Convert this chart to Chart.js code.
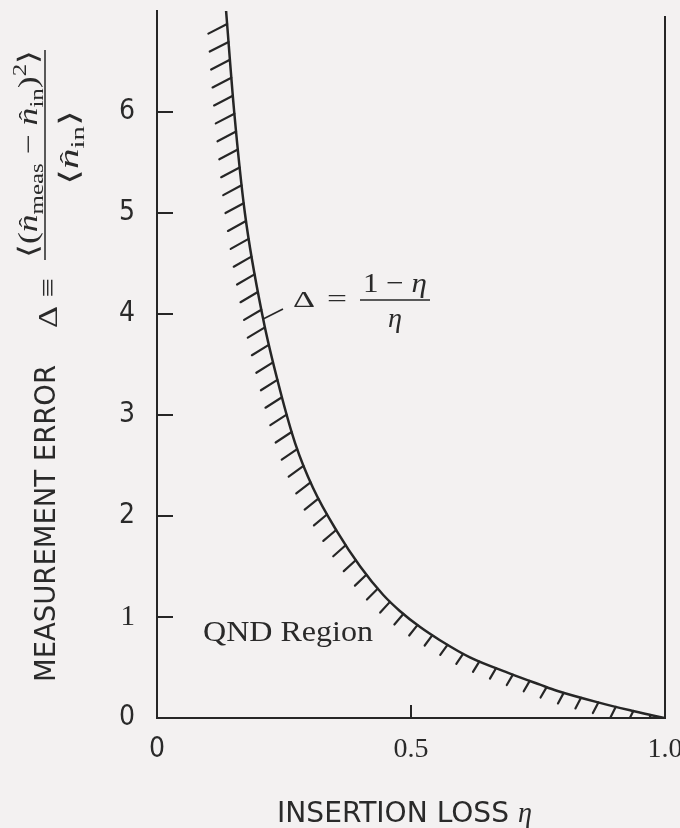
<!DOCTYPE html>
<html>
<head>
<meta charset="utf-8">
<script src="https://cdn.jsdelivr.net/npm/chart.js@4.4.0/dist/chart.umd.min.js"></script>
<style>
  html, body { margin: 0; padding: 0; background: #f3f1f1; }
  canvas { display: block; }
</style>
</head>
<body>
<canvas id="myChart" width="680" height="828"></canvas>
<script>
// values
var eta   = [0.136, 0.152, 0.173, 0.209, 0.242, 0.272, 0.307, 0.354, 0.400, 0.445, 0.478, 0.518, 0.557, 0.616, 0.695, 0.754, 0.787, 0.872, 0.937, 0.976, 1.000];
var delta = [7.00,  6.00,  5.00,  3.95,  3.25,  2.72,  2.28,  1.85,  1.50,  1.22,  1.06,  0.90,  0.77,  0.60,  0.44,  0.33,  0.27,  0.15,  0.07,  0.025, 0.00];
var xTicks = [0, 0.5, 1.0];
var xTickLabels = ["0", "0.5", "1.0"];
var yTicks = [0, 1, 2, 3, 4, 5, 6];
var yTickLabels = ["0", "1", "2", "3", "4", "5", "6"];
var xTitle = "INSERTION LOSS";
var yTitle = "MEASUREMENT ERROR";
var regionLabel = "QND Region";

var INK = "#262626";
var TXT = "#2a2a2a";
var SANS = '"Liberation Sans Narrow", "DejaVu Sans Condensed", "DejaVu Sans", sans-serif';
var SERIF = '"Liberation Serif", "DejaVu Serif", serif';

function points() {
  var p = [];
  for (var i = 0; i < eta.length; i++) p.push({ x: eta[i], y: delta[i] });
  return p;
}

// ---- little text helpers ----
function fontOf(tok, size) {
  var s = tok.sub || tok.sup ? size * 0.7 : size;
  return (tok.it ? "italic " : "") + s + "px " + (tok.sans ? SANS : SERIF);
}
function runWidth(ctx, toks, size) {
  var w = 0;
  for (var i = 0; i < toks.length; i++) {
    ctx.font = fontOf(toks[i], size);
    w += ctx.measureText(toks[i].t).width;
  }
  return w;
}
// draw tokens starting at (x, y) baseline, squeezed to width w
function drawRun(ctx, toks, x, y, size, w) {
  var nat = runWidth(ctx, toks, size);
  ctx.save();
  ctx.translate(x, y);
  ctx.scale(w / nat, 1);
  ctx.textAlign = "left";
  ctx.textBaseline = "alphabetic";
  var cx = 0;
  for (var i = 0; i < toks.length; i++) {
    var tk = toks[i];
    ctx.font = fontOf(tk, size);
    var dy = tk.sub ? size * 0.22 : (tk.sup ? -size * 0.42 : 0);
    var tw = ctx.measureText(tk.t).width;
    ctx.fillText(tk.t, cx, dy);
    if (tk.hat) {
      ctx.font = (size * 0.8) + "px " + SERIF;
      ctx.textAlign = "center";
      ctx.fillText("\u02C6", cx + tw * 0.55, -size * 0.12);
      ctx.textAlign = "left";
    }
    cx += tw;
  }
  ctx.restore();
}

var numerTok = [
  { t: "\u27E8(" }, { t: "n", it: true, hat: true }, { t: "meas", sub: true },
  { t: " \u2212 " }, { t: "n", it: true, hat: true }, { t: "in", sub: true },
  { t: ")" }, { t: "2", sup: true }, { t: "\u27E9" }
];
var denomTok = [{ t: "\u27E8" }, { t: "n", it: true, hat: true }, { t: "in", sub: true }, { t: "\u27E9" }];

var decor = {
  id: "decor",
  afterDatasetsDraw: function (chart) {
    var ctx = chart.ctx, a = chart.chartArea;
    var meta = chart.getDatasetMeta(0);
    var pts = meta.data;
    // sample the drawn spline
    var path = [];
    for (var i = 0; i < pts.length - 1; i++) {
      var p0 = pts[i], p3 = pts[i + 1];
      var c1x = p0.cp2x, c1y = p0.cp2y, c2x = p3.cp1x, c2y = p3.cp1y;
      if (c1x === undefined) { c1x = p0.x; c1y = p0.y; c2x = p3.x; c2y = p3.y; }
      for (var k = 0; k < 24; k++) {
        var t = k / 24, u = 1 - t;
        path.push({
          x: u * u * u * p0.x + 3 * u * u * t * c1x + 3 * u * t * t * c2x + t * t * t * p3.x,
          y: u * u * u * p0.y + 3 * u * u * t * c1y + 3 * u * t * t * c2y + t * t * t * p3.y
        });
      }
    }
    path.push({ x: pts[pts.length - 1].x, y: pts[pts.length - 1].y });

    ctx.save();
    ctx.beginPath();
    ctx.rect(a.left + 1, a.top - 10, a.right - a.left, a.bottom - a.top + 9);
    ctx.clip();
    ctx.strokeStyle = INK;
    ctx.lineWidth = 2.2;
    ctx.lineCap = "round";
    var spacing = 18, next = 13, s = 0;
    for (var j = 0; j < path.length - 1; j++) {
      var dx = path[j + 1].x - path[j].x, dy = path[j + 1].y - path[j].y;
      var seg = Math.sqrt(dx * dx + dy * dy);
      while (seg > 0 && next <= s + seg) {
        var f = (next - s) / seg;
        var hx = path[j].x + dx * f, hy = path[j].y + dy * f;
        var th = Math.atan2(dy, dx) * 180 / Math.PI;
        var phi = (70 - th / 2) * Math.PI / 180;
        var L = Math.max(12, 13 + (th - 35) * 0.16);
        ctx.beginPath();
        ctx.moveTo(hx, hy);
        ctx.lineTo(hx - L * Math.cos(phi), hy + L * Math.sin(phi));
        ctx.stroke();
        next += spacing;
      }
      s += seg;
    }
    ctx.restore();
  },
  afterDraw: function (chart) {
    var ctx = chart.ctx, a = chart.chartArea;
    var xs = chart.scales.x, ys = chart.scales.y;
    ctx.save();
    ctx.strokeStyle = INK;
    ctx.lineWidth = 2;
    // inward ticks
    for (var i = 1; i < yTicks.length; i++) {
      var py = ys.getPixelForValue(yTicks[i]);
      ctx.beginPath(); ctx.moveTo(a.left, py); ctx.lineTo(a.left + 16, py); ctx.stroke();
    }
    var px = xs.getPixelForValue(0.5);
    ctx.beginPath(); ctx.moveTo(px, a.bottom); ctx.lineTo(px, a.bottom - 13); ctx.stroke();
    // right frame line
    ctx.beginPath(); ctx.moveTo(a.right, a.top + 5); ctx.lineTo(a.right, a.bottom); ctx.stroke();
    // leader from the curve to the formula
    ctx.lineWidth = 1.6;
    ctx.beginPath();
    ctx.moveTo(xs.getPixelForValue(0.209), ys.getPixelForValue(3.95));
    ctx.lineTo(xs.getPixelForValue(0.248), ys.getPixelForValue(4.05));
    ctx.stroke();

    ctx.fillStyle = TXT;
    // curve formula
    drawRun(ctx, [{ t: "\u0394" }], 293, 307, 24, 22);
    drawRun(ctx, [{ t: "=" }], 327, 307, 26, 20);
    ctx.lineWidth = 1.5;
    ctx.beginPath(); ctx.moveTo(360, 300); ctx.lineTo(430, 300); ctx.stroke();
    drawRun(ctx, [{ t: "1 \u2212 " }, { t: "\u03B7", it: true }], 363, 292, 28, 64);
    drawRun(ctx, [{ t: "\u03B7", it: true }], 388, 327, 28, 14);

    // region label
    drawRun(ctx, [{ t: regionLabel }], 203, 641, 30, 170);

    // x title
    drawRun(ctx, [{ t: xTitle, sans: true }], 277, 822, 29, 232);
    drawRun(ctx, [{ t: "\u03B7", it: true }], 518, 822, 29, 14);

    // rotated y title
    ctx.save();
    ctx.translate(55, 682); ctx.rotate(-Math.PI / 2);
    drawRun(ctx, [{ t: yTitle, sans: true }], 0, 0, 28, 317);
    ctx.restore();
    ctx.save();
    ctx.translate(57, 328); ctx.rotate(-Math.PI / 2);
    drawRun(ctx, [{ t: "\u0394 \u2261" }], 0, 0, 28, 50);
    ctx.restore();
    ctx.lineWidth = 1.5;
    ctx.beginPath(); ctx.moveTo(45, 50); ctx.lineTo(45, 260); ctx.stroke();
    ctx.save();
    ctx.translate(37, 258); ctx.rotate(-Math.PI / 2);
    drawRun(ctx, numerTok, 0, 0, 27, 208);
    ctx.restore();
    ctx.save();
    ctx.translate(78, 185); ctx.rotate(-Math.PI / 2);
    drawRun(ctx, denomTok, 0, 0, 27, 75);
    ctx.restore();
    ctx.restore();
  }
};

var ctx = document.getElementById("myChart");
var chart = new Chart(ctx, {
  type: "scatter",
  data: {
    datasets: [{
      data: points(),
      showLine: true,
      borderColor: INK,
      borderWidth: 2.5,
      pointRadius: 0,
      cubicInterpolationMode: "monotone",
      fill: false
    }]
  },
  options: {
    responsive: false,
    animation: false,
    layout: { padding: { left: 0, top: 11, right: 15, bottom: 0 } },
    plugins: { legend: { display: false }, tooltip: { enabled: false } },
    scales: {
      x: {
        type: "linear", min: 0, max: 1,
        grid: { display: false, drawTicks: false },
        border: { display: true, color: INK, width: 2 },
        afterBuildTicks: function (s) { s.ticks = xTicks.map(function (v) { return { value: v }; }); },
        afterFit: function (s) { s.height = 110; s.paddingLeft = 0; s.paddingRight = 0; },
        ticks: {
          autoSkip: false, maxRotation: 0, padding: 15, color: TXT,
          font: function (c) { return c.index === 0 ? { family: SANS, size: 28 } : { family: SERIF, size: 28 }; },
          callback: function (v, i) { return xTickLabels[i]; }
        }
      },
      y: {
        type: "linear", min: 0, max: 7,
        grid: { display: false, drawTicks: false },
        border: { display: true, color: INK, width: 2 },
        afterBuildTicks: function (s) { s.ticks = yTicks.map(function (v) { return { value: v }; }); },
        afterFit: function (s) { s.width = 157; s.paddingTop = 0; s.paddingBottom = 0; },
        ticks: {
          autoSkip: false, padding: 22, color: TXT,
          font: function (c) { return c.index === 1 ? { family: SERIF, size: 29 } : { family: SANS, size: 28 }; },
          callback: function (v, i) { return yTickLabels[i]; }
        }
      }
    }
  },
  plugins: [decor]
});
</script>
</body>
</html>
